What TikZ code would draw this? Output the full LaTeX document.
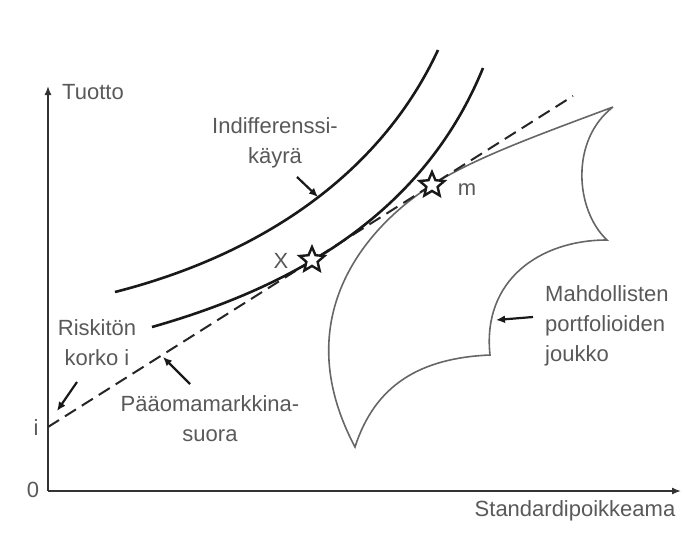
\documentclass[tikz,border=0pt]{standalone}
\usepackage{fontspec}
\setmainfont{Liberation Sans}
\usetikzlibrary{arrows.meta, positioning, shapes.geometric}

\begin{document}
\begin{tikzpicture}[
        x=1pt, y=-1pt,
        every node/.style={text=black!65, font=\fontsize{22}{30}\selectfont, inner sep=0pt},
        axis/.style={draw=black!80, line width=1.4pt, -{Latex[length=9pt, width=7pt]}},
        curve/.style={draw=black!90, line width=2.6pt},
        cml/.style={draw=black!85, line width=2pt, dash pattern=on 13pt off 7pt},
        setedge/.style={draw=black!60, line width=1.6pt},
        pointer/.style={draw=black!90, line width=2.2pt, -{Latex[length=9pt, width=8pt]}},
        portstar/.style={star, star points=5, star point ratio=2.2, minimum size=26pt, draw=black!90, line width=2.4pt, fill=white}
    ]
    \useasboundingbox (0,0) rectangle (683,544);

    % Axes
    \coordinate (origin) at (48,491);
    \coordinate (ytop) at (48,86);
    \coordinate (xend) at (681,491);
    \draw[axis] (origin) -- (ytop);
    \draw[axis] (origin) -- (xend);

    % Axis texts
    \node (tuotto) [anchor=base west] at (62,99) {Tuotto};
    \node (std) at (575,511) {Standardipoikkeama};
    \node (zero) at (33,490) {0};
    \node (ilabel) at (36,428) {i};

    % Set of possible portfolios
    \draw[setedge] (613,107) .. controls (530,138) and (475,158) .. (432,185)
        .. controls (370,224) and (285,315) .. (355,447)
        .. controls (375,385) and (420,358) .. (490,355)
        .. controls (482,280) and (540,240) .. (607,240)
        .. controls (575,210) and (570,140) .. (613,107);

    % Capital market line
    \coordinate (ilevel) at (48,427);
    \coordinate (cmlend) at (573,96);
    \draw[cml] (ilevel) -- (cmlend);

    % Indifference curves
    \draw[curve] (115,292) .. controls (260,255) and (380,175) .. (438,50);
    \draw[curve] (152,327) .. controls (300,285) and (425,210) .. (483,68);

    % Portfolios
    \node[portstar] (X) at (312,260) {};
    \node[portstar] (m) at (432,185) {};
    \node (xlabel) at (281,261) {X};
    \node (mlabel) at (467,190) {m};

    % Labels
    \node (indiff) [align=center] at (275,143) {Indifferenssi-\\käyrä};
    \node (riskiton) [align=center] at (97,343) {Riskitön\\korko i};
    \node (cmlabel) [align=center] at (210,419) {Pääomamarkkina-\\suora};
    \node (setlabel) [align=left, anchor=west] at (545,326) {Mahdollisten\\portfolioiden\\joukko};

    % Pointers
    \coordinate (indtail) at (297,177);
    \coordinate (indtip) at (318,197);
    \coordinate (risktail) at (77,382);
    \coordinate (risktip) at (57,411);
    \coordinate (cmltail) at (190,384);
    \coordinate (cmltip) at (163,357);
    \coordinate (settail) at (533,317);
    \coordinate (settip) at (496,320);
    \draw[pointer] (indtail) -- (indtip);
    \draw[pointer] (risktail) -- (risktip);
    \draw[pointer] (cmltail) -- (cmltip);
    \draw[pointer] (settail) -- (settip);
\end{tikzpicture}
\end{document}
